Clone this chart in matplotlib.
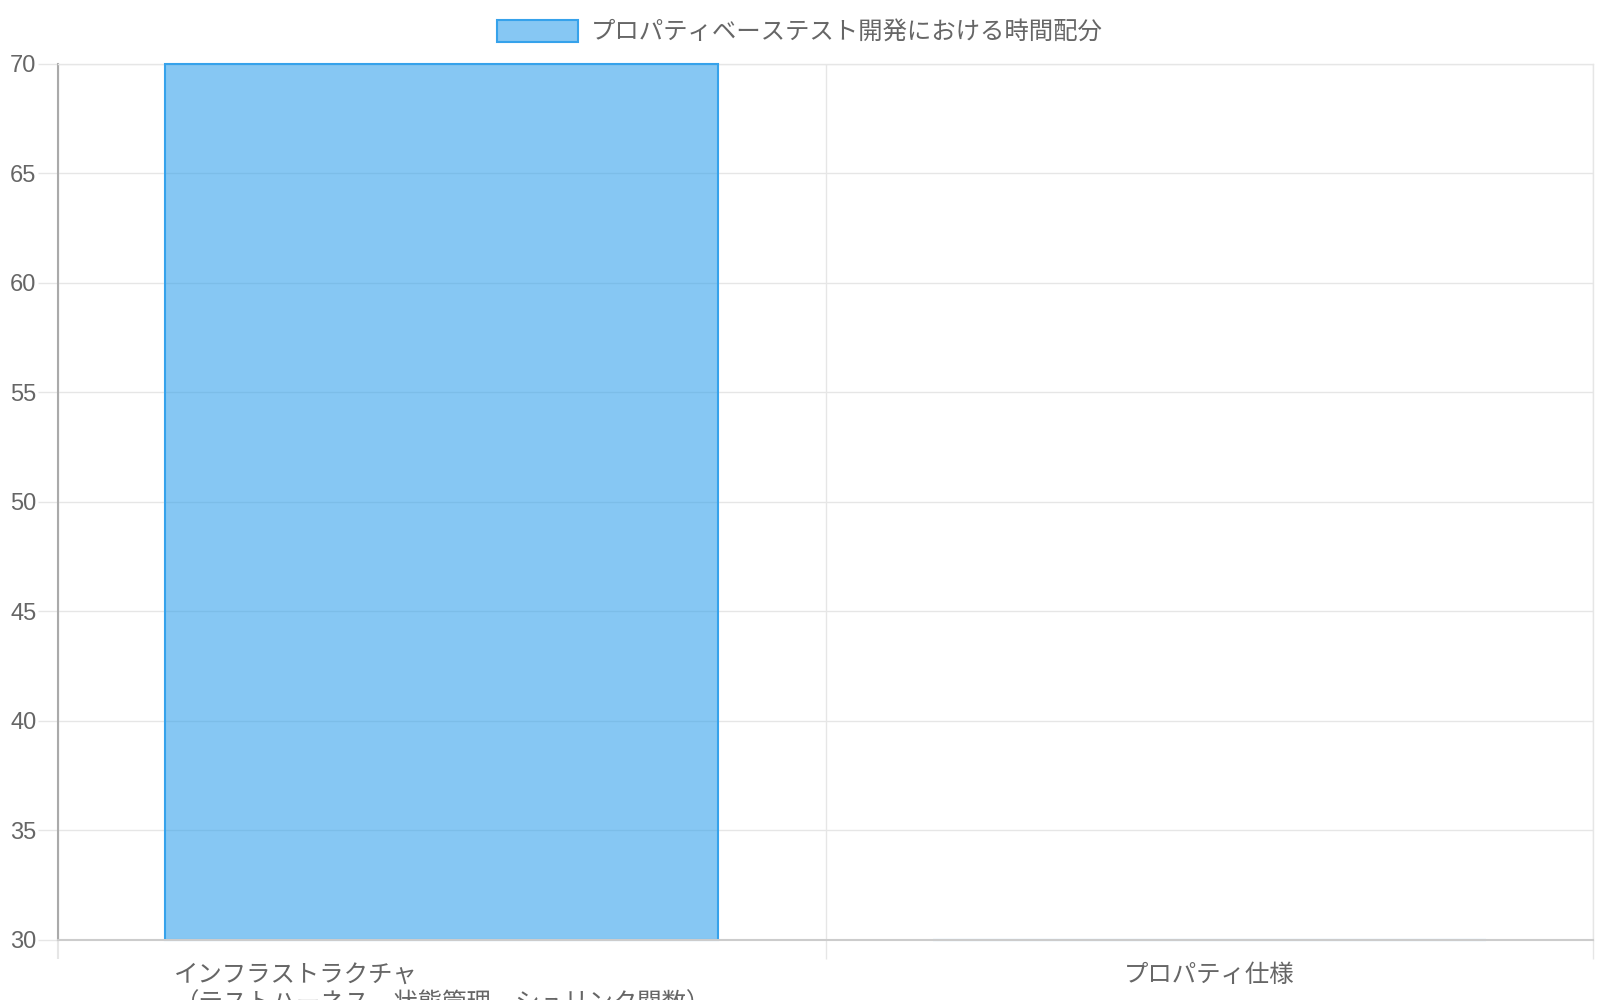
import matplotlib
matplotlib.use("Agg")
import matplotlib.pyplot as plt
import numpy as np

plt.rcParams["font.family"] = ["Liberation Sans", "Noto Sans CJK JP", "DejaVu Sans"]

# data
categories = ["インフラストラクチャ\n（テストハーネス、状態管理、シュリンク関数）",
              "プロパティ仕様"]
values = [70, 30]
series_name = "プロパティベーステスト開発における時間配分"
y_ticks = [30, 35, 40, 45, 50, 55, 60, 65, 70]

textcolor = "#666666"
gridcolor = "#e6e6e6"
fill = (54 / 255, 162 / 255, 235 / 255, 0.6)
edge = "#36a2eb"

fig = plt.figure(figsize=(16, 10), dpi=100)
ax = fig.add_axes([0.03625, 0.06, 0.959375, 0.876])

# bars grow from the bottom of the value axis, like the original chart
base = y_ticks[0]
x = np.arange(len(categories))
heights = np.array(values) - base
ax.bar(x, heights, bottom=base, width=0.72, color=fill, edgecolor=edge,
       linewidth=1.5, label=series_name, zorder=2.8, clip_on=False)

ax.set_xlim(-0.5, len(categories) - 0.5)
ax.set_ylim(y_ticks[0], y_ticks[-1])
ax.set_yticks(y_ticks)
ax.set_xticks(x)
ax.set_xticklabels(categories, fontsize=17.6, color=textcolor,
                   multialignment="left", linespacing=1.32)
ax.set_xticks(np.arange(-0.5, len(categories)), minor=True)

ax.tick_params(axis="x", which="major", length=0, pad=18)
ax.tick_params(axis="x", which="minor", length=13.7, width=1, color=gridcolor)
ax.tick_params(axis="y", length=14.4, width=1, color=gridcolor,
               labelsize=17, labelcolor=textcolor, pad=1)

ax.grid(axis="y", color=gridcolor, linewidth=1, zorder=0)
ax.grid(axis="x", which="minor", color=gridcolor, linewidth=1, zorder=0)
ax.set_axisbelow(True)

# first boundary tick continues the darker left axis line
ax.xaxis.get_minor_ticks()[0].tick1line.set_color("#aaaaaa")
ax.xaxis.get_minor_ticks()[0].tick1line.set_markeredgewidth(1.5)

ax.spines["left"].set_color("#aaaaaa")
ax.spines["left"].set_linewidth(1.5)
ax.spines["bottom"].set_color("#cccccc")
ax.spines["bottom"].set_linewidth(1.5)
ax.spines["bottom"].set_zorder(3)
for s in ["top", "right"]:
    ax.spines[s].set_color(gridcolor)
    ax.spines[s].set_linewidth(1)

leg = fig.legend(loc="center", bbox_to_anchor=(0.5, 0.968), frameon=False,
                 fontsize=17.6, handlelength=3.3, handleheight=1.0,
                 handletextpad=0.55, borderaxespad=0)
for t in leg.get_texts():
    t.set_color(textcolor)

fig.savefig("out.png", dpi=100)
